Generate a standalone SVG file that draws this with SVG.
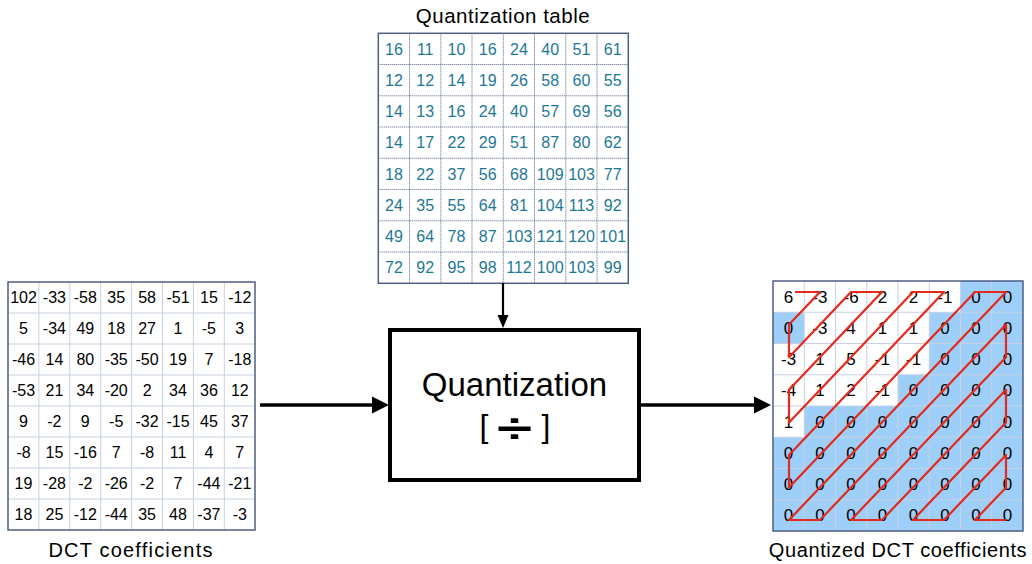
<svg xmlns="http://www.w3.org/2000/svg" width="1032" height="564" viewBox="0 0 1032 564">
<style>
text{font-family:"Liberation Sans",Arial,sans-serif;}
.num{font-size:16px;fill:#000;text-anchor:middle;}
.qn{font-size:16px;fill:#1d7896;text-anchor:middle;}
.zn{font-size:17px;fill:#000;text-anchor:middle;}
.lbl{font-size:20px;fill:#000;text-anchor:middle;}
.gl{stroke:#c8d0e2;stroke-width:1;fill:none;}
.dl{stroke:#55648c;stroke-width:1;stroke-dasharray:1 1;fill:none;}
.bd{fill:none;stroke:#4e5d84;stroke-width:1.5;}
.zz{fill:none;stroke:#e5291c;stroke-width:2.2;stroke-linejoin:round;}
</style>
<rect width="1032" height="564" fill="#fff"/>

<g id="quant-table">
<text class="lbl" x="503" y="23" style="font-size:20.5px;letter-spacing:0.5px">Quantization table</text>
<rect x="378.3" y="33.3" width="250" height="250" fill="#fff"/>
<path class="dl" d="M409.5 33.3V283.3M440.8 33.3V283.3M472 33.3V283.3M503.3 33.3V283.3M534.5 33.3V283.3M565.8 33.3V283.3M597 33.3V283.3M378.3 64.5H628.3M378.3 95.8H628.3M378.3 127H628.3M378.3 158.3H628.3M378.3 189.5H628.3M378.3 220.8H628.3M378.3 252H628.3"/>
<rect class="bd" x="378.3" y="33.3" width="250" height="250"/>
<text class="qn" y="54.5"><tspan x="394">16</tspan><tspan x="425.2">11</tspan><tspan x="456.5">10</tspan><tspan x="487.7">16</tspan><tspan x="519">24</tspan><tspan x="550.2">40</tspan><tspan x="581.5">51</tspan><tspan x="612.7">61</tspan></text>
<text class="qn" y="85.7"><tspan x="394">12</tspan><tspan x="425.2">12</tspan><tspan x="456.5">14</tspan><tspan x="487.7">19</tspan><tspan x="519">26</tspan><tspan x="550.2">58</tspan><tspan x="581.5">60</tspan><tspan x="612.7">55</tspan></text>
<text class="qn" y="117"><tspan x="394">14</tspan><tspan x="425.2">13</tspan><tspan x="456.5">16</tspan><tspan x="487.7">24</tspan><tspan x="519">40</tspan><tspan x="550.2">57</tspan><tspan x="581.5">69</tspan><tspan x="612.7">56</tspan></text>
<text class="qn" y="148.2"><tspan x="394">14</tspan><tspan x="425.2">17</tspan><tspan x="456.5">22</tspan><tspan x="487.7">29</tspan><tspan x="519">51</tspan><tspan x="550.2">87</tspan><tspan x="581.5">80</tspan><tspan x="612.7">62</tspan></text>
<text class="qn" y="179.5"><tspan x="394">18</tspan><tspan x="425.2">22</tspan><tspan x="456.5">37</tspan><tspan x="487.7">56</tspan><tspan x="519">68</tspan><tspan x="550.2">109</tspan><tspan x="581.5">103</tspan><tspan x="612.7">77</tspan></text>
<text class="qn" y="210.7"><tspan x="394">24</tspan><tspan x="425.2">35</tspan><tspan x="456.5">55</tspan><tspan x="487.7">64</tspan><tspan x="519">81</tspan><tspan x="550.2">104</tspan><tspan x="581.5">113</tspan><tspan x="612.7">92</tspan></text>
<text class="qn" y="242"><tspan x="394">49</tspan><tspan x="425.2">64</tspan><tspan x="456.5">78</tspan><tspan x="487.7">87</tspan><tspan x="519">103</tspan><tspan x="550.2">121</tspan><tspan x="581.5">120</tspan><tspan x="612.7">101</tspan></text>
<text class="qn" y="273.2"><tspan x="394">72</tspan><tspan x="425.2">92</tspan><tspan x="456.5">95</tspan><tspan x="487.7">98</tspan><tspan x="519">112</tspan><tspan x="550.2">100</tspan><tspan x="581.5">103</tspan><tspan x="612.7">99</tspan></text>
</g>

<g id="dct-table">
<rect x="8" y="282" width="247" height="248" fill="#fff"/>
<path class="gl" d="M38.9 282V530M69.8 282V530M100.7 282V530M131.6 282V530M162.5 282V530M193.4 282V530M224.3 282V530M8 313H255M8 344H255M8 375H255M8 406H255M8 437H255M8 468H255M8 499H255"/>
<rect class="bd" x="8" y="282" width="247" height="248"/>
<text class="num" y="302.5"><tspan x="23.5">102</tspan><tspan x="54.4">-33</tspan><tspan x="85.3">-58</tspan><tspan x="116.2">35</tspan><tspan x="147.1">58</tspan><tspan x="178">-51</tspan><tspan x="208.9">15</tspan><tspan x="239.8">-12</tspan></text>
<text class="num" y="333.5"><tspan x="23.5">5</tspan><tspan x="54.4">-34</tspan><tspan x="85.3">49</tspan><tspan x="116.2">18</tspan><tspan x="147.1">27</tspan><tspan x="178">1</tspan><tspan x="208.9">-5</tspan><tspan x="239.8">3</tspan></text>
<text class="num" y="364.5"><tspan x="23.5">-46</tspan><tspan x="54.4">14</tspan><tspan x="85.3">80</tspan><tspan x="116.2">-35</tspan><tspan x="147.1">-50</tspan><tspan x="178">19</tspan><tspan x="208.9">7</tspan><tspan x="239.8">-18</tspan></text>
<text class="num" y="395.5"><tspan x="23.5">-53</tspan><tspan x="54.4">21</tspan><tspan x="85.3">34</tspan><tspan x="116.2">-20</tspan><tspan x="147.1">2</tspan><tspan x="178">34</tspan><tspan x="208.9">36</tspan><tspan x="239.8">12</tspan></text>
<text class="num" y="426.5"><tspan x="23.5">9</tspan><tspan x="54.4">-2</tspan><tspan x="85.3">9</tspan><tspan x="116.2">-5</tspan><tspan x="147.1">-32</tspan><tspan x="178">-15</tspan><tspan x="208.9">45</tspan><tspan x="239.8">37</tspan></text>
<text class="num" y="457.5"><tspan x="23.5">-8</tspan><tspan x="54.4">15</tspan><tspan x="85.3">-16</tspan><tspan x="116.2">7</tspan><tspan x="147.1">-8</tspan><tspan x="178">11</tspan><tspan x="208.9">4</tspan><tspan x="239.8">7</tspan></text>
<text class="num" y="488.5"><tspan x="23.5">19</tspan><tspan x="54.4">-28</tspan><tspan x="85.3">-2</tspan><tspan x="116.2">-26</tspan><tspan x="147.1">-2</tspan><tspan x="178">7</tspan><tspan x="208.9">-44</tspan><tspan x="239.8">-21</tspan></text>
<text class="num" y="519.5"><tspan x="23.5">18</tspan><tspan x="54.4">25</tspan><tspan x="85.3">-12</tspan><tspan x="116.2">-44</tspan><tspan x="147.1">35</tspan><tspan x="178">48</tspan><tspan x="208.9">-37</tspan><tspan x="239.8">-3</tspan></text>
<text class="lbl" x="131" y="557" style="letter-spacing:1.2px">DCT coefficients</text>
</g>

<g id="quantization-block">
<rect x="390" y="330" width="249" height="150" fill="#fff" stroke="#000" stroke-width="4"/>
<text x="514.5" y="396" text-anchor="middle" font-size="33" fill="#000">Quantization</text>
<text x="484" y="437" text-anchor="middle" font-size="32" fill="#000">[</text>
<text transform="translate(514.5,442) scale(1.6,1)" text-anchor="middle" font-size="40" font-weight="bold" fill="#000">÷</text>
<text x="546" y="437" text-anchor="middle" font-size="32" fill="#000">]</text>
</g>

<g id="quantized-table">
<rect x="773" y="281" width="250" height="250" fill="#9dcff8"/>
<path fill="#fff" d="M773 281H960.5V312.25H929.25V343.5H929.25V374.75H898V406H804.25V437.25H773ZM773 312.25H804.25V343.5H773Z" fill-rule="evenodd"/>
<path class="gl" d="M804.25 281V531M835.5 281V531M866.75 281V531M898 281V531M929.25 281V531M960.5 281V531M991.75 281V531M773 312.25H1023M773 343.5H1023M773 374.75H1023M773 406H1023M773 437.25H1023M773 468.5H1023M773 499.75H1023"/>
<rect class="bd" x="773" y="281" width="250" height="250"/>
<text class="zn" y="302.6"><tspan x="788.6">6</tspan><tspan x="819.9">-3</tspan><tspan x="851.1">-6</tspan><tspan x="882.4">2</tspan><tspan x="913.6">2</tspan><tspan x="944.9">-1</tspan><tspan x="976.1">0</tspan><tspan x="1007.4">0</tspan></text>
<text class="zn" y="333.9"><tspan x="788.6">0</tspan><tspan x="819.9">-3</tspan><tspan x="851.1">4</tspan><tspan x="882.4">1</tspan><tspan x="913.6">1</tspan><tspan x="944.9">0</tspan><tspan x="976.1">0</tspan><tspan x="1007.4">0</tspan></text>
<text class="zn" y="365.1"><tspan x="788.6">-3</tspan><tspan x="819.9">1</tspan><tspan x="851.1">5</tspan><tspan x="882.4">-1</tspan><tspan x="913.6">-1</tspan><tspan x="944.9">0</tspan><tspan x="976.1">0</tspan><tspan x="1007.4">0</tspan></text>
<text class="zn" y="396.4"><tspan x="788.6">-4</tspan><tspan x="819.9">1</tspan><tspan x="851.1">2</tspan><tspan x="882.4">-1</tspan><tspan x="913.6">0</tspan><tspan x="944.9">0</tspan><tspan x="976.1">0</tspan><tspan x="1007.4">0</tspan></text>
<text class="zn" y="427.6"><tspan x="788.6">1</tspan><tspan x="819.9">0</tspan><tspan x="851.1">0</tspan><tspan x="882.4">0</tspan><tspan x="913.6">0</tspan><tspan x="944.9">0</tspan><tspan x="976.1">0</tspan><tspan x="1007.4">0</tspan></text>
<text class="zn" y="458.9"><tspan x="788.6">0</tspan><tspan x="819.9">0</tspan><tspan x="851.1">0</tspan><tspan x="882.4">0</tspan><tspan x="913.6">0</tspan><tspan x="944.9">0</tspan><tspan x="976.1">0</tspan><tspan x="1007.4">0</tspan></text>
<text class="zn" y="490.1"><tspan x="788.6">0</tspan><tspan x="819.9">0</tspan><tspan x="851.1">0</tspan><tspan x="882.4">0</tspan><tspan x="913.6">0</tspan><tspan x="944.9">0</tspan><tspan x="976.1">0</tspan><tspan x="1007.4">0</tspan></text>
<text class="zn" y="521.4"><tspan x="788.6">0</tspan><tspan x="819.9">0</tspan><tspan x="851.1">0</tspan><tspan x="882.4">0</tspan><tspan x="913.6">0</tspan><tspan x="944.9">0</tspan><tspan x="976.1">0</tspan><tspan x="1007.4">0</tspan></text>
<path class="zz" d="M795 292H820L789 324.6V357.2L851 292H882L789 389.8V422.4L913 292H944L789 455V487.6L975 292H1006L789 520H820L1006 324.6V357.2L851 520H882L1006 389.8V422.4L913 520H944L1006 455V487.6L975 520H1006"/>
<text class="lbl" x="898" y="557" style="letter-spacing:0.6px">Quantized DCT coefficients</text>
</g>

<g id="connectors" fill="#000" stroke="#000">
<line x1="260" y1="405" x2="374" y2="405" stroke-width="3.5"/>
<polygon points="372,396.5 389,405 372,413.5" stroke="none"/>
<line x1="641" y1="405" x2="756" y2="405" stroke-width="3.5"/>
<polygon points="754,396.5 771,405 754,413.5" stroke="none"/>
<line x1="503" y1="283" x2="503" y2="318" stroke-width="2.2"/>
<polygon points="497.5,315 508.5,315 503,328" stroke="none"/>
</g>
</svg>
